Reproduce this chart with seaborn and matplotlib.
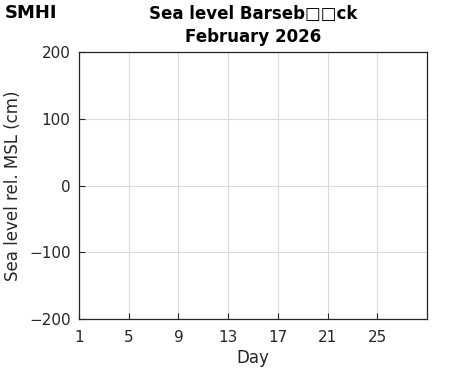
import matplotlib
matplotlib.use("Agg")
import matplotlib.pyplot as plt
import seaborn as sns
import pandas as pd

# Data (no observations shown in the reference)
days = []
sea_level = []
x_ticks = [1, 5, 9, 13, 17, 21, 25]
y_ticks = [-200, -100, 0, 100, 200]
x_limits = [1, 29]
y_limits = [-200, 200]
title_text = "Sea level Barseb\u25a1\u25a1ck\nFebruary 2026"

sns.set_style("whitegrid")
plt.rcParams['font.family'] = ['DejaVu Sans']

fig = plt.figure(figsize=(4.71, 3.71), dpi=100)
ax = fig.add_axes([79 / 471, 1 - 319 / 371, (427 - 79) / 471, (319 - 52) / 371])

df = pd.DataFrame({"Day": pd.Series(days, dtype=float), "Level": pd.Series(sea_level, dtype=float)})
sns.lineplot(data=df, x="Day", y="Level", ax=ax, color="#0072bd")

ax.set_xlim(x_limits)
ax.set_ylim(y_limits)
ax.set_xticks(x_ticks)
ax.set_yticks(y_ticks)
ax.set_yticklabels([str(v).replace("-", "\u2212") for v in y_ticks])
ax.grid(True, color="#dcdcdc", linewidth=0.8)
for s in ax.spines.values():
    s.set_visible(True)
    s.set_color("#262626")
    s.set_linewidth(0.9)
ax.tick_params(direction="in", length=4, width=0.8, colors="#262626", labelsize=11,
               bottom=True, left=True)
ax.tick_params(axis="x", pad=8)
ax.tick_params(axis="y", pad=6)
ax.set_xlabel("Day", fontsize=12, color="#262626", labelpad=3)
ax.set_ylabel("Sea level rel. MSL (cm)", fontsize=12, color="#262626", labelpad=5)
ax.set_title(title_text, fontsize=12, fontweight="bold", color="black", pad=7, linespacing=1.4)

fig.text(0.01, 0.99, "SMHI", fontsize=13, fontweight="bold",
         va="top", ha="left", family=["DejaVu Sans"], color="black")

fig.savefig("out.png", dpi=100)
